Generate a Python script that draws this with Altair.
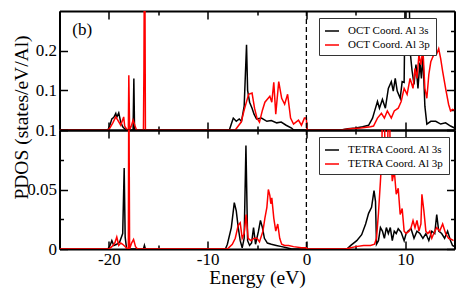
import altair as alt
import pandas as pd

FONT = "Liberation Serif"
LEGEND_FONT = "Liberation Serif"

# ---------------- data (Energy eV, PDOS states/eV/Al) ----------------
oct_3s = [(-25, 0), (-20.1, 0), (-19.9, 0.012), (-19.7, 0.028), (-19.5, 0.032), (-19.3, 0.042),
          (-19.2, 0.032), (-19.0, 0.043), (-18.8, 0.02), (-18.6, 0.008), (-18.4, 0.003), (-18.1, 0),
          (-17.55, 0), (-17.47, 0.13), (-17.4, 0), (-16.2, 0),
          (-7.8, 0), (-7.6, 0.015), (-7.4, 0.03), (-7.1, 0.022), (-6.8, 0.028), (-6.57, 0.022),
          (-6.3, 0.06), (-6.06, 0.215), (-5.95, 0.1), (-5.75, 0.07), (-5.5, 0.055), (-5.3, 0.04),
          (-5.05, 0.028), (-4.55, 0.03), (-4.0, 0.022), (-3.55, 0.024), (-3.0, 0.018), (-2.55, 0.02),
          (-2.05, 0.012), (-1.5, 0.005), (-1.3, 0),
          (3.5, 0), (4.2, 0.003), (5.0, 0.005), (5.7, 0.008), (6.3, 0.012), (6.7, 0.03), (6.9, 0.047),
          (7.2, 0.072), (7.4, 0.055), (7.7, 0.077), (8.0, 0.055), (8.3, 0.105), (8.6, 0.122),
          (8.8, 0.098), (9.0, 0.13), (9.2, 0.098), (9.5, 0.08), (9.7, 0.122), (9.9, 0.12),
          (10.05, 0.45), (10.35, 0.45), (10.5, 0.2), (10.7, 0.15), (10.9, 0.115), (11.1, 0.165),
          (11.3, 0.105), (11.5, 0.17), (11.65, 0.13), (11.8, 0.19), (12.0, 0.06), (12.2, 0.015),
          (12.6, 0.022), (13.1, 0.022), (13.6, 0.015), (14.1, 0.018), (14.6, 0.01), (15.0, 0.005)]

oct_3p = [(-25, 0), (-20.1, 0), (-19.9, 0.005), (-19.6, 0.018), (-19.3, 0.033), (-19.1, 0.025),
          (-18.8, 0.012), (-18.5, 0.033), (-18.4, 0.01), (-18.15, 0), (-18.03, 0), (-17.98, 0.138),
          (-17.9, 0), (-17.7, 0.012), (-17.55, 0.025), (-17.35, 0.01), (-17.2, 0), (-16.5, 0),
          (-16.45, 0.155), (-16.38, 0.6), (-16.3, 0),
          (-7.2, 0), (-6.9, 0.01), (-6.6, 0.02), (-6.3, 0.05), (-5.85, 0.09), (-5.5, 0.093),
          (-5.25, 0.055), (-5.0, 0.03), (-4.75, 0.02), (-4.45, 0.05), (-4.2, 0.07), (-3.7, 0.085),
          (-3.5, 0.07), (-3.3, 0.12), (-3.1, 0.04), (-2.8, 0.122), (-2.5, 0.08), (-2.2, 0.065),
          (-1.9, 0.09), (-1.6, 0.03), (-1.3, 0.015), (-0.8, 0.025), (-0.5, 0.012), (-0.2, 0.03),
          (0.0, 0.03), (0.05, 0),
          (3.5, 0), (4.5, 0.003), (5.5, 0.005), (6.5, 0.008), (6.8, 0.01), (7.2, 0.03), (7.6, 0.042),
          (7.9, 0.03), (8.2, 0.048), (8.6, 0.03), (8.9, 0.048), (9.3, 0.055), (9.6, 0.072),
          (9.9, 0.105), (10.2, 0.09), (10.5, 0.13), (10.8, 0.105), (11.0, 0.155), (11.2, 0.13),
          (11.4, 0.19), (11.6, 0.165), (11.8, 0.205), (12.0, 0.105), (12.2, 0.08), (12.4, 0.14),
          (12.6, 0.172), (12.9, 0.19), (13.2, 0.192), (13.4, 0.205), (13.6, 0.18), (13.8, 0.148),
          (14.1, 0.105), (14.4, 0.065), (14.6, 0.048), (14.8, 0.052), (15.0, 0.05)]

tetra_3s = [(-25, 0), (-20.1, 0), (-19.9, 0.0025), (-19.7, 0.007), (-19.5, 0.003), (-19.2, 0.004),
            (-18.9, 0.006), (-18.6, 0.013), (-18.45, 0.068), (-18.35, 0.01), (-18.2, 0),
            (-16.5, 0), (-16.4, 0.003), (-16.3, 0),
            (-8.2, 0), (-8.0, 0.004), (-7.6, 0.018), (-7.3, 0.039), (-7.1, 0.032), (-6.9, 0.018),
            (-6.7, 0.007), (-6.5, 0.001), (-6.3, 0.009), (-6.12, 0.087), (-5.95, 0.007), (-5.75, 0.003),
            (-5.55, 0.005), (-5.35, 0.018), (-5.15, 0.004), (-4.85, 0.015), (-4.65, 0.024),
            (-4.45, 0.018), (-4.25, 0.009), (-3.95, 0.005), (-3.55, 0.004), (-3.05, 0.003),
            (-2.5, 0.002), (-2.0, 0.001), (-1.5, 0),
            (4.1, 0), (4.5, 0.003), (5.1, 0.007), (5.6, 0.012), (6.0, 0.021), (6.3, 0.03), (6.6, 0.035),
            (6.85, 0.049), (7.0, 0.04), (7.1, 0.004), (7.3, 0.007), (7.5, 0.018), (7.7, 0.015),
            (7.9, 0.009), (8.1, 0.018), (8.3, 0.013), (8.5, 0.018), (8.7, 0.007), (8.9, 0.015),
            (9.1, 0.013), (9.3, 0.017), (9.6, 0.014), (9.9, 0.007), (10.1, 0.013), (10.3, 0.015),
            (10.6, 0.017), (10.9, 0.009), (11.2, 0.015), (11.5, 0.013), (11.8, 0.009), (12.1, 0.013),
            (12.4, 0.007), (12.7, 0.015), (13.0, 0.013), (13.2, 0.029), (13.4, 0.015), (13.7, 0.013),
            (14.0, 0.009), (14.3, 0.015), (14.6, 0.007), (14.8, 0.003), (15.0, 0.002)]

tetra_3p = [(-25, 0), (-20.0, 0), (-19.7, 0.002), (-19.4, 0.005), (-19.2, 0.01), (-19.0, 0.003),
            (-18.8, 0.005), (-18.6, 0.004), (-18.1, 0), (-18.03, 0), (-17.98, 0.15), (-17.9, 0),
            (-17.7, 0.005), (-17.5, 0.008), (-17.3, 0.002), (-17.1, 0),
            (-8.0, 0), (-7.5, 0.004), (-7.2, 0.009), (-6.9, 0.02), (-6.7, 0.022), (-6.5, 0.009),
            (-6.3, 0.013), (-6.1, 0.029), (-5.9, 0.009), (-5.6, 0.007), (-5.3, 0.009), (-5.0, 0.009),
            (-4.75, 0.006), (-4.4, 0.015), (-4.2, 0.026), (-4.0, 0.035), (-3.85, 0.05), (-3.7, 0.045),
            (-3.6, 0.038), (-3.5, 0.043), (-3.3, 0.026), (-3.1, 0.015), (-2.9, 0.021), (-2.7, 0.009),
            (-2.5, 0.004), (-2.2, 0.003), (-1.8, 0.003), (-1.3, 0.002), (-0.5, 0.001), (0.0, 0.001),
            (0.05, 0),
            (4.0, 0), (4.5, 0.001), (5.0, 0.002), (5.8, 0.003), (6.5, 0.003), (6.9, 0.004), (7.1, 0.009),
            (7.3, 0.03), (7.5, 0.057), (7.6, 0.071), (7.8, 0.15), (8.0, 0.071), (8.2, 0.077),
            (8.4, 0.15), (8.5, 0.063), (8.6, 0.071), (8.7, 0.057), (8.9, 0.066), (9.1, 0.046),
            (9.3, 0.051), (9.5, 0.029), (9.7, 0.034), (9.9, 0.015), (10.1, 0.013), (10.4, 0.015),
            (10.6, 0.018), (10.8, 0.024), (11.0, 0.018), (11.2, 0.024), (11.4, 0.015), (11.6, 0.021),
            (11.7, 0.046), (11.9, 0.032), (12.1, 0.015), (12.3, 0.013), (12.5, 0.015), (12.7, 0.009),
            (12.9, 0.013), (13.2, 0.018), (13.5, 0.015), (13.8, 0.021), (14.1, 0.013), (14.4, 0.009),
            (14.7, 0.008), (14.9, 0.007)]

top_names = ["OCT Coord. Al 3s", "OCT Coord. Al 3p"]
bot_names = ["TETRA Coord. Al 3s", "TETRA Coord. Al 3p"]
x_ticks = [-25, -20, -15, -10, -5, 0, 5, 10, 15]
top_y_ticks = [0, 0.05, 0.1, 0.15, 0.2, 0.25]
bot_y_ticks = [0, 0.025, 0.05, 0.075, 0.1]
panel_tag = ["(b)"]


def frame(series):
    rows = []
    for name, pts in series:
        for e, v in pts:
            rows.append({"E": e, "v": v, "s": name})
    return pd.DataFrame(rows)


top_df = frame([(top_names[0], oct_3s), (top_names[1], oct_3p)])
bot_df = frame([(bot_names[0], tetra_3s), (bot_names[1], tetra_3p)])

X_MAJOR = "datum.value % 10 === 0"
TOP_MAJOR = "abs(datum.value*10 - round(datum.value*10)) < 0.001"
BOT_MAJOR = "abs(datum.value*20 - round(datum.value*20)) < 0.001"


def ax(orient, values, major, label_expr=None, title=None, pad=10, **kw):
    opts = dict(orient=orient, values=values, grid=False,
                tickSize={"expr": f"({major}) ? -8 : -4"},
                tickColor="black", tickWidth=1.5,
                domainColor="black", domainWidth=2,
                labelFont=FONT, labelFontSize=17, labelColor="black",
                labelPadding=pad, labelOverlap=False,
                titleFont=FONT, titleFontSize=19.5, titleFontWeight="normal",
                titleColor="black", title=title)
    if label_expr is None:
        opts["labels"] = False
    else:
        opts["labelExpr"] = label_expr
    opts.update(kw)
    return alt.Axis(**opts)


def panel(df, names, ydom, yticks, ymajor, x_axis, y_axis, tag=False):
    xs = alt.Scale(domain=[-25, 15], nice=False, zero=False)
    ys = alt.Scale(domain=ydom, nice=False, zero=False)
    lines = alt.Chart(df).mark_line(strokeWidth=1.5, clip=True).encode(
        x=alt.X("E:Q", scale=xs, axis=x_axis),
        y=alt.Y("v:Q", scale=ys, axis=y_axis),
        color=alt.Color("s:N", scale=alt.Scale(domain=names, range=["#000000", "#ff0000"]),
                        sort=names,
                        legend=alt.Legend(orient="none", legendX=259.5, legendY=7, title=None,
                                          direction="vertical", columns=1, columnPadding=0,
                                          symbolType="stroke", symbolSize=196,
                                          symbolStrokeWidth=1.5, labelFont=LEGEND_FONT,
                                          labelFontSize=11, labelColor="black",
                                          labelOffset=8, labelLimit=300,
                                          strokeColor="#333333", fillColor="white",
                                          padding=5, rowPadding=1, cornerRadius=0)),
    )
    rule = alt.Chart(pd.DataFrame({"E": [0]})).mark_rule(
        color="black", strokeWidth=1.3, strokeDash=[5, 3]).encode(
        x=alt.X("E:Q", scale=xs))
    layers = [lines, rule]
    if tag:
        txt = alt.Chart(pd.DataFrame({"t": panel_tag})).mark_text(
            font=FONT, fontSize=17, align="left", baseline="middle", color="black").encode(
            x=alt.datum(-23.7, scale=xs), y=alt.datum(0.2525, scale=ys), text="t:N")
        layers.append(txt)
    main = alt.layer(*layers)
    twin = alt.Chart(df).mark_line(opacity=0, clip=True).encode(
        x=alt.X("E:Q", scale=xs, axis=ax("top", x_ticks, X_MAJOR)),
        y=alt.Y("v:Q", scale=ys, axis=ax("right", yticks, ymajor)),
        detail="s:N",
    )
    return alt.layer(main, twin).resolve_scale(x="independent", y="independent").properties(
        width=395, height=119)


top = panel(
    top_df, top_names, [0, 0.3], top_y_ticks, TOP_MAJOR,
    ax("bottom", x_ticks, X_MAJOR),
    ax("left", top_y_ticks, TOP_MAJOR,
       label_expr=f"({TOP_MAJOR}) && datum.value > 0.001 ? '' + datum.value : ''",
       title="PDOS (states/eV/Al)", pad=11,
       titleX=-32.5, titleY=106, titleAngle=270, titleAlign="center",
       titleBaseline="alphabetic"),
    tag=True,
)

bot = panel(
    bot_df, bot_names, [0, 0.1], bot_y_ticks, BOT_MAJOR,
    ax("bottom", x_ticks, X_MAJOR,
       label_expr=f"({X_MAJOR}) ? '' + datum.value : ''",
       title="Energy (eV)", pad=10, titleY=34, titleBaseline="alphabetic"),
    ax("left", bot_y_ticks, BOT_MAJOR,
       label_expr=f"({BOT_MAJOR}) ? '' + datum.value : ''", pad=11),
)

chart = alt.vconcat(top, bot, spacing=0, bounds="flush").resolve_scale(
    color="independent", x="independent", y="independent"
).properties(
    padding={"left": 1.5, "top": 1, "right": 5, "bottom": 5}
).configure_view(stroke=None).configure(background="white", font=FONT)

chart.save("out.html", embed_options={"renderer": "svg", "actions": False})
